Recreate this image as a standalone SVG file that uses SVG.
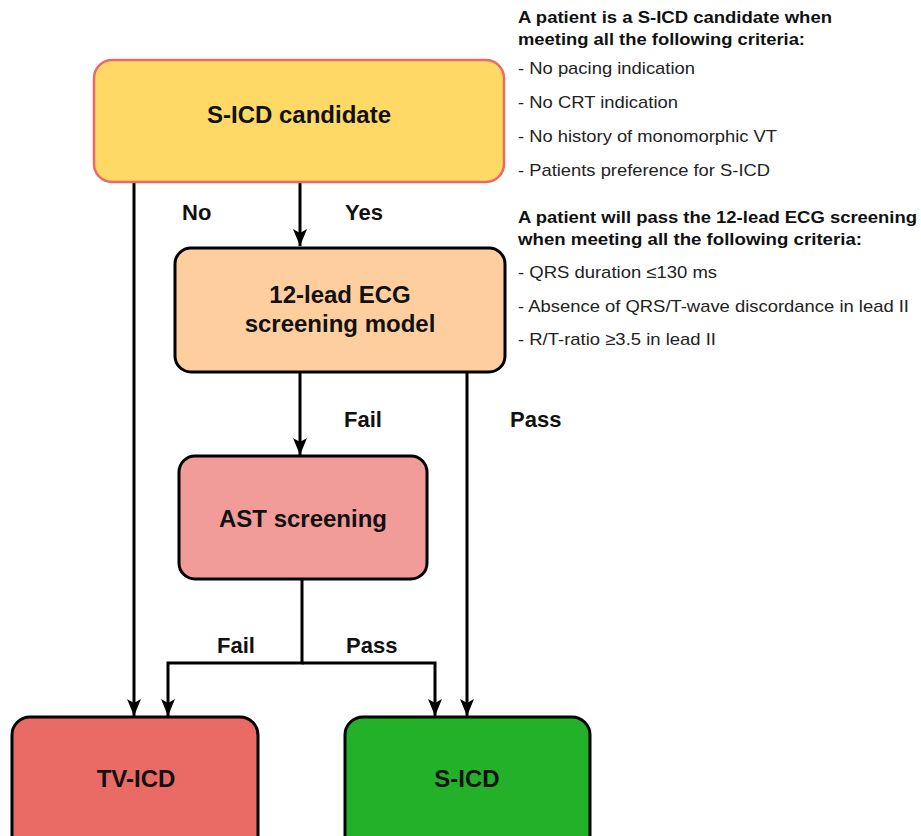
<svg xmlns="http://www.w3.org/2000/svg" width="921" height="836" viewBox="0 0 921 836">
<style>
.node{stroke:#000;stroke-width:3}
.nt{font-family:"Liberation Sans",Arial,sans-serif;font-weight:bold;font-size:24px;fill:#111;text-anchor:middle}
.lbl{font-family:"Liberation Sans",Arial,sans-serif;font-weight:bold;font-size:22px;fill:#111}
.conn{fill:none;stroke:#000;stroke-width:3}
.h{font-family:"Liberation Sans",Arial,sans-serif;font-weight:bold;font-size:17px;fill:#111}
.t{font-family:"Liberation Sans",Arial,sans-serif;font-size:17px;fill:#222}
</style>
<defs>
<marker id="arr" markerWidth="20" markerHeight="20" viewBox="0 0 20 20" refX="18" refY="10" orient="auto" markerUnits="userSpaceOnUse">
<path d="M1,3 L18,10 L1,17 L5,10 Z" fill="#000"/>
</marker>
</defs>
<rect width="921" height="836" fill="#fff"/>
<g id="connectors">
<path class="conn" d="M134,182 V716" marker-end="url(#arr)"/>
<path class="conn" d="M300,182 V246" marker-end="url(#arr)"/>
<path class="conn" d="M300,372 V455" marker-end="url(#arr)"/>
<path class="conn" d="M467,372 V716" marker-end="url(#arr)"/>
<path class="conn" d="M302,579 V663 H168 V716" marker-end="url(#arr)"/>
<path class="conn" d="M302,663 H435 V716" marker-end="url(#arr)"/>
<text class="lbl" x="182" y="220">No</text>
<text class="lbl" x="345" y="220">Yes</text>
<text class="lbl" x="344" y="427">Fail</text>
<text class="lbl" x="510" y="427">Pass</text>
<text class="lbl" x="217" y="653">Fail</text>
<text class="lbl" x="346" y="653">Pass</text>
</g>
<g id="candidate">
<rect x="94" y="60" width="410" height="122" rx="18" fill="#FFD966" stroke="#EA6B66" stroke-width="2.5"/>
<text class="nt" x="299" y="123" font-size="25">S-ICD candidate</text>
</g>
<g id="ecg">
<rect class="node" x="175" y="248" width="330" height="124" rx="16" fill="#FFCE9F"/>
<text class="nt" x="340" y="303">12-lead ECG</text>
<text class="nt" x="340" y="332">screening model</text>
</g>
<g id="ast">
<rect class="node" x="179" y="456" width="248" height="123" rx="16" fill="#F19C99"/>
<text class="nt" x="303" y="527">AST screening</text>
</g>
<g id="tvicd">
<rect class="node" x="12" y="717" width="246" height="140" rx="18" fill="#EA6B66"/>
<text class="nt" x="136" y="787">TV-ICD</text>
</g>
<g id="sicd">
<rect class="node" x="345" y="717" width="245" height="140" rx="18" fill="#24B12A"/>
<text class="nt" x="467" y="787">S-ICD</text>
</g>
<g id="criteria">
<text class="h" x="518" y="23" textLength="314" lengthAdjust="spacingAndGlyphs">A patient is a S-ICD candidate when</text>
<text class="h" x="518" y="45" textLength="287" lengthAdjust="spacingAndGlyphs">meeting all the following criteria:</text>
<text class="t" x="518" y="74" textLength="177" lengthAdjust="spacingAndGlyphs">- No pacing indication</text>
<text class="t" x="518" y="108" textLength="160" lengthAdjust="spacingAndGlyphs">- No CRT indication</text>
<text class="t" x="518" y="142" textLength="259" lengthAdjust="spacingAndGlyphs">- No history of monomorphic VT</text>
<text class="t" x="518" y="176" textLength="252" lengthAdjust="spacingAndGlyphs">- Patients preference for S-ICD</text>
<text class="h" x="518" y="223" textLength="399" lengthAdjust="spacingAndGlyphs">A patient will pass the 12-lead ECG screening</text>
<text class="h" x="518" y="245" textLength="344" lengthAdjust="spacingAndGlyphs">when meeting all the following criteria:</text>
<text class="t" x="518" y="278" textLength="199" lengthAdjust="spacingAndGlyphs">- QRS duration ≤130 ms</text>
<text class="t" x="518" y="312" textLength="391" lengthAdjust="spacingAndGlyphs">- Absence of QRS/T-wave discordance in lead II</text>
<text class="t" x="518" y="345" textLength="198" lengthAdjust="spacingAndGlyphs">- R/T-ratio ≥3.5 in lead II</text>
</g>
</svg>
